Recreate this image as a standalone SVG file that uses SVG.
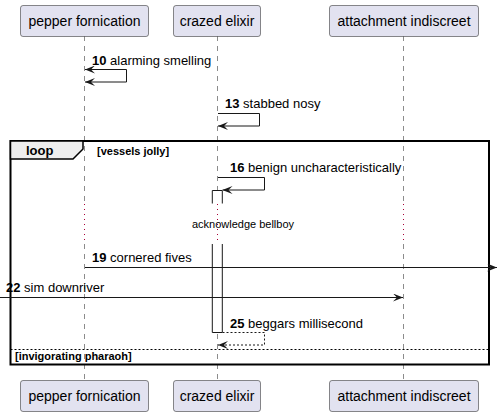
<svg xmlns="http://www.w3.org/2000/svg" width="498" height="417" viewBox="0 0 498 417">
<style>
.part rect{fill:#E2E2F0;stroke:#181818;stroke-width:0.5}
.part text{font-family:"Liberation Sans",Arial,sans-serif;font-size:14px;fill:#000;text-anchor:middle}
.life{stroke:#181818;stroke-width:0.5;stroke-dasharray:5,5;fill:none}
.dot{stroke:#A80036;stroke-width:1;stroke-dasharray:1,4;fill:none}
.msg{stroke:#181818;stroke-width:1;fill:none}
.dash{stroke-dasharray:2,2}
.lbl{font-family:"Liberation Sans",Arial,sans-serif;font-size:13px;fill:#000}
.b{font-weight:bold}
.small{font-family:"Liberation Sans",Arial,sans-serif;font-size:11px;fill:#000}
.grp{font-family:"Liberation Sans",Arial,sans-serif;font-size:11px;font-weight:bold;fill:#000}
</style>
<defs>
<marker id="ah" viewBox="0 0 10 8" refX="10" refY="4" markerWidth="10" markerHeight="8" markerUnits="userSpaceOnUse" orient="auto-start-reverse">
<path d="M0,0 L10,4 L0,8 L4,4 Z" fill="#181818"/>
</marker>
</defs>
<g id="lifelines">
<path class="life" d="M84.5,36 V203 M84.5,244 V381"/>
<path class="life" d="M217.5,36 V203 M217.5,244 V381"/>
<path class="life" d="M403.5,36 V203 M403.5,244 V381"/>
<path class="dot" d="M84.5,204 V244 M217.5,204 V244 M403.5,204 V244"/>
</g>
<g id="loop-frame">
<rect x="10.5" y="141" width="478.5" height="223.5" fill="none" stroke="#000" stroke-width="2"/>
<path d="M10.5,141 H83 V149 L73,159 H10.5 Z" fill="#EEEEEE" stroke="#000" stroke-width="1.5"/>
<text x="26" y="155" class="grp" style="font-size:13px">loop</text>
<text x="97" y="155" class="grp">[vessels jolly]</text>
<line x1="10.5" y1="349.5" x2="489" y2="349.5" stroke="#000" stroke-width="1" stroke-dasharray="2,2"/>
<text x="15" y="360" class="grp">[invigorating pharaoh]</text>
</g>
<g id="activation">
<rect x="212.3" y="190.5" width="10" height="13" fill="#fff" stroke="none"/>
<path d="M212.3,203.5 V190.5 H222.3 V203.5" fill="none" stroke="#181818" stroke-width="1"/>
<rect x="212.3" y="244" width="10" height="88.5" fill="#fff" stroke="none"/>
<path d="M212.3,244 V332.5 H222.3 V244" fill="none" stroke="#181818" stroke-width="1"/>
</g>
<g id="connectors">
<path class="msg" d="M85,69.5 H126.5 V82 H85" marker-start="url(#ah)" marker-end="url(#ah)"/>
<text x="92" y="65" class="lbl"><tspan class="b">10</tspan> alarming smelling</text>
<path class="msg" d="M218,113.5 H259.5 V126 H218" marker-end="url(#ah)"/>
<text x="225" y="108" class="lbl"><tspan class="b">13</tspan> stabbed nosy</text>
<path class="msg" d="M218,177.5 H264.5 V190 H222.5" marker-end="url(#ah)"/>
<text x="230" y="172" class="lbl"><tspan class="b">16</tspan> benign uncharacteristically</text>
<text x="243" y="227.5" class="small" text-anchor="middle">acknowledge bellboy</text>
<path class="msg" d="M85,267.5 H497" marker-end="url(#ah)"/>
<text x="92" y="262" class="lbl"><tspan class="b">19</tspan> cornered fives</text>
<path class="msg" d="M0,297.5 H403" marker-end="url(#ah)"/>
<text x="6" y="292" class="lbl"><tspan class="b">22</tspan> sim downriver</text>
<path class="msg dash" d="M222.5,332.5 H264.5 V345 H218" marker-end="url(#ah)"/>
<text x="230" y="328" class="lbl"><tspan class="b">25</tspan> beggars millisecond</text>
</g>
<g id="pepper-fornication" class="part">
<rect x="20.5" y="5.5" width="128" height="31" rx="2.5"/>
<text x="84.5" y="26">pepper fornication</text>
<rect x="20.5" y="380.5" width="128" height="31" rx="2.5"/>
<text x="84.5" y="401">pepper fornication</text>
</g>
<g id="crazed-elixir" class="part">
<rect x="173.5" y="5.5" width="87" height="31" rx="2.5"/>
<text x="217" y="26">crazed elixir</text>
<rect x="173.5" y="380.5" width="87" height="31" rx="2.5"/>
<text x="217" y="401">crazed elixir</text>
</g>
<g id="attachment-indiscreet" class="part">
<rect x="329.5" y="5.5" width="149" height="31" rx="2.5"/>
<text x="404" y="26">attachment indiscreet</text>
<rect x="329.5" y="380.5" width="149" height="31" rx="2.5"/>
<text x="404" y="401">attachment indiscreet</text>
</g>
</svg>
